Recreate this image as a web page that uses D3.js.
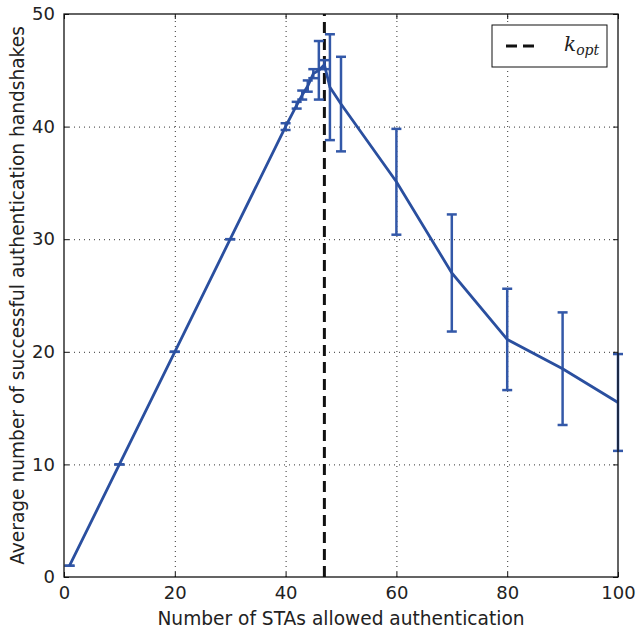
<!DOCTYPE html>
<html>
<head>
<meta charset="utf-8">
<script src="https://cdn.jsdelivr.net/npm/d3@7"></script>
<style>
  body { margin: 0; background: #fff; }
  text { fill: #222; }
</style>
</head>
<body>
<svg id="chart" width="636" height="633"></svg>
<script>
// STAs allowed authentication vs successful handshakes (mean +- error)
const staCounts = [1, 10, 20, 30, 40, 42, 43, 44, 45, 46, 47, 48, 50, 60, 70, 80, 90, 100];
const meanHandshakes = [1, 10, 20, 30, 40, 41.9, 42.8, 43.6, 44.7, 45.0, 45.5, 43.5, 42.0, 35.1, 27.0, 21.1, 18.5, 15.5];
const errHandshakes = [0, 0, 0, 0, 0.3, 0.3, 0.4, 0.5, 0.4, 2.6, 0.4, 4.7, 4.2, 4.7, 5.2, 4.5, 5.0, 4.3];
const kOpt = 47;
const xTicks = [0, 20, 40, 60, 80, 100];
const yTicks = [0, 10, 20, 30, 40, 50];

const svg = d3.select("#chart");
const margin = { left: 64, right: 18, top: 14, bottom: 56 };
const width = +svg.attr("width");
const height = +svg.attr("height");
const blue = "#2a4f9f";
const sans = "'DejaVu Sans', sans-serif";

const x = d3.scaleLinear().domain([0, 100]).range([margin.left, width - margin.right]);
const y = d3.scaleLinear().domain([0, 50]).range([height - margin.bottom, margin.top]);

const data = staCounts.map((k, i) => ({ k: k, m: meanHandshakes[i], e: errHandshakes[i] }));

// grid
const grid = svg.append("g").attr("stroke", "#333").attr("stroke-width", 1)
    .attr("stroke-dasharray", "1,4");
grid.selectAll("line.gx").data(xTicks.slice(1, -1)).enter().append("line")
    .attr("x1", d => x(d) + 0.5).attr("x2", d => x(d) + 0.5)
    .attr("y1", y(0)).attr("y2", y(50));
grid.selectAll("line.gy").data(yTicks.slice(1, -1)).enter().append("line")
    .attr("y1", d => y(d) + 0.5).attr("y2", d => y(d) + 0.5)
    .attr("x1", x(0)).attr("x2", x(100));

// k_opt line
svg.append("line")
    .attr("x1", x(kOpt)).attr("x2", x(kOpt))
    .attr("y1", y(0)).attr("y2", y(50))
    .attr("stroke", "#111").attr("stroke-width", 3)
    .attr("stroke-dasharray", "11,6");

// error bars
const eb = svg.append("g").attr("stroke", "#3358a8").attr("stroke-width", 2.5);
eb.selectAll("line.v").data(data).enter().append("line")
    .attr("x1", d => x(d.k)).attr("x2", d => x(d.k))
    .attr("y1", d => y(d.m - d.e)).attr("y2", d => y(d.m + d.e));
eb.selectAll("line.t").data(data).enter().append("line")
    .attr("x1", d => x(d.k) - 5).attr("x2", d => x(d.k) + 5)
    .attr("y1", d => y(d.m + d.e)).attr("y2", d => y(d.m + d.e));
eb.selectAll("line.b").data(data).enter().append("line")
    .attr("x1", d => x(d.k) - 5).attr("x2", d => x(d.k) + 5)
    .attr("y1", d => y(d.m - d.e)).attr("y2", d => y(d.m - d.e));

// mean line
svg.append("path").datum(data)
    .attr("fill", "none").attr("stroke", blue).attr("stroke-width", 2.8)
    .attr("d", d3.line().x(d => x(d.k)).y(d => y(d.m)));

// axes with inward ticks on all sides
svg.append("g").attr("transform", `translate(0,${y(0)})`)
    .call(d3.axisBottom(x).tickValues(xTicks).tickSizeInner(-5).tickSizeOuter(0).tickPadding(9))
    .call(g => g.selectAll("text").style("font-size", "18px").style("font-family", sans));
svg.append("g").attr("transform", `translate(0,${y(50)})`)
    .call(d3.axisTop(x).tickValues(xTicks).tickSizeInner(-5).tickSizeOuter(0).tickFormat(""));
svg.append("g").attr("transform", `translate(${x(0)},0)`)
    .call(d3.axisLeft(y).tickValues(yTicks).tickSizeInner(-5).tickSizeOuter(0).tickPadding(9))
    .call(g => g.selectAll("text").style("font-size", "18px").style("font-family", sans));
svg.append("g").attr("transform", `translate(${x(100)},0)`)
    .call(d3.axisRight(y).tickValues(yTicks).tickSizeInner(-5).tickSizeOuter(0).tickFormat(""));
svg.selectAll(".domain").remove();
svg.selectAll(".tick line").attr("stroke", "#111").attr("stroke-width", 1);
svg.selectAll(".tick text").attr("fill", "#222");

svg.append("rect")
    .attr("x", x(0)).attr("y", y(50))
    .attr("width", x(100) - x(0)).attr("height", y(0) - y(50))
    .attr("fill", "none").attr("stroke", "#111").attr("stroke-width", 1.3);

// axis labels
svg.append("text")
    .attr("x", (x(0) + x(100)) / 2).attr("y", 625)
    .attr("text-anchor", "middle")
    .style("font-family", sans).style("font-size", "18.6px")
    .text("Number of STAs allowed authentication");
svg.append("text")
    .attr("transform", `translate(24,${(y(0) + y(50)) / 2}) rotate(-90)`)
    .attr("text-anchor", "middle")
    .style("font-family", sans).style("font-size", "18.6px")
    .text("Average number of successful authentication handshakes");

// legend
const lg = svg.append("g").attr("transform", "translate(492,25)");
lg.append("rect").attr("width", 115).attr("height", 42)
    .attr("fill", "#fff").attr("stroke", "#111").attr("stroke-width", 1);
lg.append("line").attr("x1", 14).attr("x2", 45).attr("y1", 21).attr("y2", 21)
    .attr("stroke", "#111").attr("stroke-width", 3).attr("stroke-dasharray", "11,6");
const lt = lg.append("text").attr("x", 72).attr("y", 26)
    .style("font-family", "'DejaVu Serif', serif").style("font-style", "italic").style("font-size", "20px");
lt.append("tspan").text("k");
lt.append("tspan").style("font-size", "14px").attr("dy", 4).text("opt");
</script>
</body>
</html>
